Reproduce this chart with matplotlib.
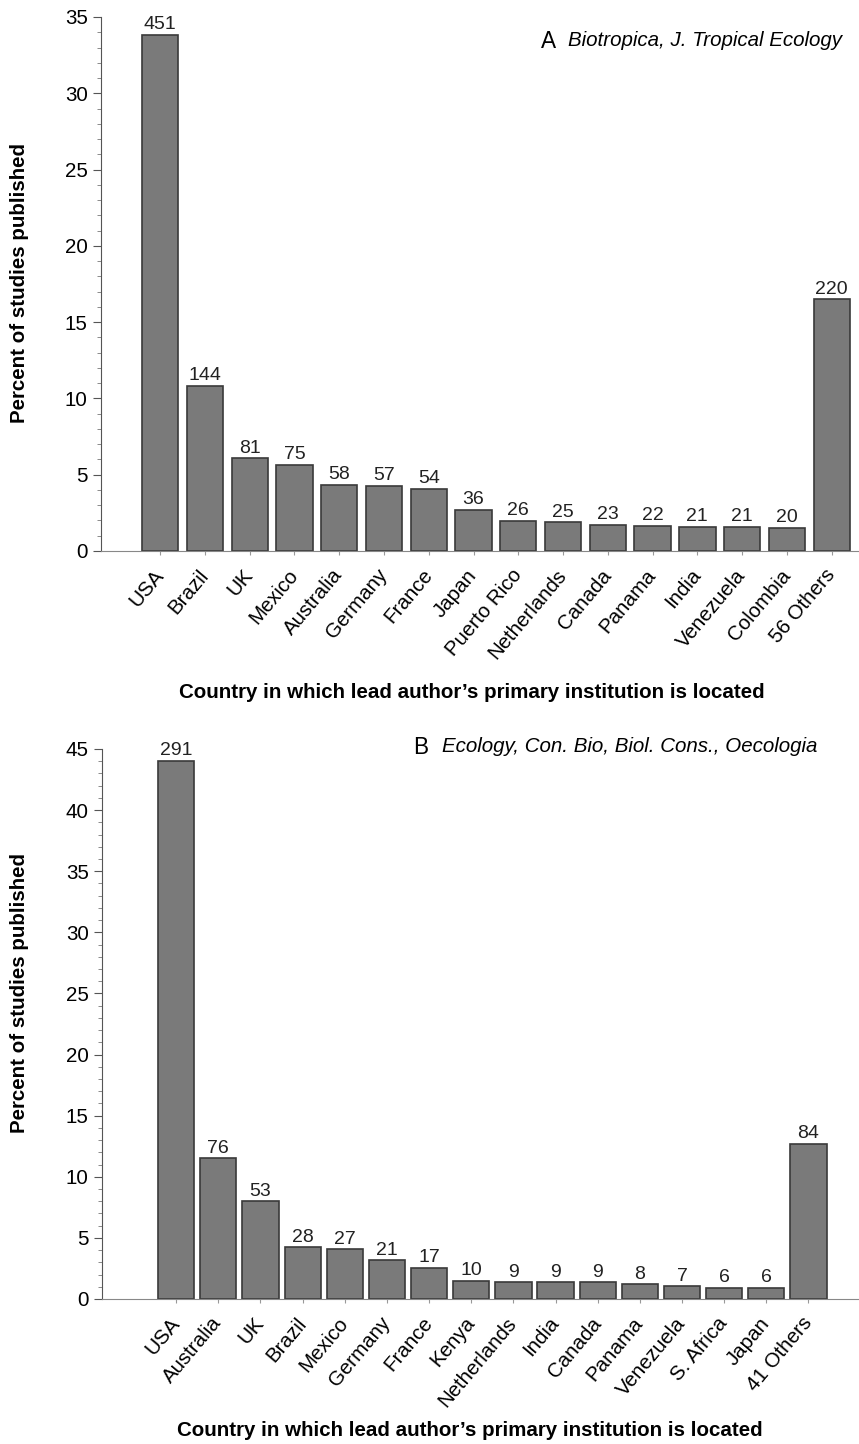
import matplotlib
matplotlib.use("Agg")
import matplotlib.pyplot as plt
from matplotlib.ticker import MultipleLocator

plt.rcParams['font.family'] = ['Liberation Sans', 'DejaVu Sans']

# panel A: Biotropica, J. Tropical Ecology
countries_a = ['USA', 'Brazil', 'UK', 'Mexico', 'Australia', 'Germany', 'France',
               'Japan', 'Puerto Rico', 'Netherlands', 'Canada', 'Panama', 'India',
               'Venezuela', 'Colombia', '56 Others']
counts_a = [451, 144, 81, 75, 58, 57, 54, 36, 26, 25, 23, 22, 21, 21, 20, 220]

# panel B: Ecology, Con. Bio, Biol. Cons., Oecologia
countries_b = ['USA', 'Australia', 'UK', 'Brazil', 'Mexico', 'Germany', 'France',
               'Kenya', 'Netherlands', 'India', 'Canada', 'Panama', 'Venezuela',
               'S. Africa', 'Japan', '41 Others']
counts_b = [291, 76, 53, 28, 27, 21, 17, 10, 9, 9, 9, 8, 7, 6, 6, 84]

W, H = 859, 1444
FS = 14.8
fig = plt.figure(figsize=(W / 100, H / 100), dpi=100)

def px_axes(left, top, right, bottom):
    return fig.add_axes([left / W, 1 - bottom / H, (right - left) / W, (bottom - top) / H])

def fx(px):
    return px / W

def fy(px):
    return 1 - px / H

def panel(ax, names, counts, ymax, xlim, width):
    total = sum(counts)
    pct = [100 * c / total for c in counts]
    x = range(len(names))
    bars = ax.bar(x, pct, width=width, color='#7a7a7a', edgecolor='#3a3a3a', linewidth=1.2)
    for b, c in zip(bars, counts):
        ax.text(b.get_x() + b.get_width() / 2, b.get_height() + 0.12, str(c),
                ha='center', va='bottom', fontsize=14, color='#222222')
    ax.set_ylim(0, ymax)
    ax.set_xlim(*xlim)
    ax.yaxis.set_major_locator(MultipleLocator(5))
    ax.yaxis.set_minor_locator(MultipleLocator(1))
    ax.set_xticks(list(x))
    ax.set_xticklabels(names, rotation=50, ha='right', va='center',
                       rotation_mode='anchor', fontsize=FS)
    ax.tick_params(axis='x', length=3, color='#999999', pad=12)
    ax.tick_params(axis='y', which='major', length=6, labelsize=FS, color='#555555')
    ax.tick_params(axis='y', which='minor', length=3, color='#777777')
    for s in ['top', 'right']:
        ax.spines[s].set_visible(False)
    ax.spines['left'].set_color('#555555')
    ax.spines['bottom'].set_color('#888888')

ax_a = px_axes(101, 17, 859, 551)
panel(ax_a, countries_a, counts_a, 35, (-1.32, 15.61), 0.81)

ax_b = px_axes(102, 749, 859, 1299)
panel(ax_b, countries_b, counts_b, 45, (-1.76, 16.2), 0.86)

ylabel = 'Percent of studies published'
fig.text(fx(20), fy(283), ylabel, rotation=90, ha='center', va='center',
         fontsize=FS, fontweight='bold')
fig.text(fx(20), fy(993), ylabel, rotation=90, ha='center', va='center',
         fontsize=FS, fontweight='bold')

xlabel = "Country in which lead author\u2019s primary institution is located"
fig.text(fx(472), fy(692), xlabel, ha='center', va='center', fontsize=FS, fontweight='bold')
fig.text(fx(470), fy(1430), xlabel, ha='center', va='center', fontsize=FS, fontweight='bold')

fig.text(fx(541), fy(41), 'A', ha='left', va='center', fontsize=FS + 1.5)
fig.text(fx(568), fy(41), 'Biotropica, J. Tropical Ecology', ha='left', va='center',
         fontsize=FS, style='italic')
fig.text(fx(413), fy(747), 'B', ha='left', va='center', fontsize=FS + 1.5)
fig.text(fx(442), fy(747), 'Ecology, Con. Bio, Biol. Cons., Oecologia', ha='left',
         va='center', fontsize=FS, style='italic')

fig.savefig('out.png', dpi=100)
